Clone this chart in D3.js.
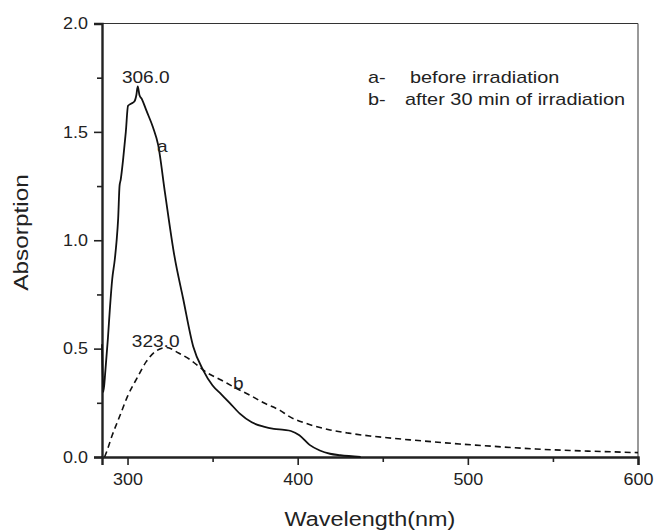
<!DOCTYPE html>
<html>
<head>
<meta charset="utf-8">
<script src="https://cdn.jsdelivr.net/npm/d3@7"></script>
<style>
  body { margin: 0; background: #fff; }
  text { font-family: "Liberation Sans", Arial, sans-serif; fill: #222; }
</style>
</head>
<body>
<div id="chart"></div>
<script>
// curve a - before irradiation
const waveA = [285.0, 285.8, 287, 288.5, 289.6, 291, 292.5, 293.5, 294.5, 295.3, 296, 297.5, 299, 300.3, 302, 304, 305.2, 306, 307, 308.5, 311, 315, 318, 322, 327.5, 332.7, 338.6, 344.5, 350, 355, 360, 366, 373, 380, 386, 392, 396, 401, 407, 413, 419, 425, 437];
const absA  = [0.52, 0.30, 0.40, 0.55, 0.68, 0.82, 0.91, 0.99, 1.10, 1.25, 1.28, 1.38, 1.50, 1.62, 1.63, 1.64, 1.67, 1.71, 1.67, 1.65, 1.60, 1.52, 1.44, 1.22, 0.93, 0.73, 0.51, 0.40, 0.33, 0.29, 0.25, 0.20, 0.16, 0.14, 0.13, 0.125, 0.12, 0.10, 0.056, 0.03, 0.015, 0.008, 0.0];

// curve b - after 30 min of irradiation
const waveB = [286.5, 288, 291, 295.5, 300, 306, 311, 317, 323, 330, 336.6, 346.5, 355, 362, 372, 380, 389.6, 395.5, 405, 419, 430, 442.5, 455, 466, 480, 495, 510, 525, 540, 560, 580, 600];
const absB  = [0.0, 0.03, 0.10, 0.19, 0.28, 0.37, 0.44, 0.49, 0.505, 0.48, 0.45, 0.39, 0.355, 0.325, 0.285, 0.25, 0.215, 0.185, 0.155, 0.125, 0.11, 0.097, 0.087, 0.079, 0.07, 0.06, 0.052, 0.044, 0.037, 0.03, 0.025, 0.02];

const xMajor = [300, 400, 500, 600];
const xMinor = [350, 450, 550];
const yMajor = [0, 0.5, 1.0, 1.5, 2.0];
const yMinor = [0.25, 0.75, 1.25, 1.75];

const legendLines = [["a-", "before irradiation"], ["b-", "after 30 min of irradiation"]];

const width = 654, height = 532;
const mLeft = 102, mRight = 638, mTop = 23.5, mBottom = 457;

const svg = d3.select("#chart").append("svg")
    .attr("width", width)
    .attr("height", height);

const x = d3.scaleLinear().domain([285, 600]).range([mLeft, mRight]);
const y = d3.scaleLinear().domain([0, 2]).range([mBottom, mTop]);

// stretch text a bit wider, the original font is wide
function stretch(sel, k) {
    sel.each(function() {
        const L = this.getComputedTextLength();
        d3.select(this).attr("textLength", L * k).attr("lengthAdjust", "spacingAndGlyphs");
    });
}

// frame top and right
svg.append("line").attr("x1", mLeft).attr("x2", mRight).attr("y1", mTop).attr("y2", mTop)
    .style("stroke", "#333").style("stroke-width", 1.2);
svg.append("line").attr("x1", mRight).attr("x2", mRight).attr("y1", mTop).attr("y2", mBottom)
    .style("stroke", "#555").style("stroke-width", 1.2);

// x axis
const xAxis = svg.append("g").attr("transform", `translate(0,${mBottom})`)
    .call(d3.axisBottom(x).tickValues(xMajor).tickSize(8).tickPadding(6).tickFormat(d3.format("d")));
svg.append("g").attr("transform", `translate(0,${mBottom})`)
    .call(d3.axisBottom(x).tickValues(xMinor).tickSize(5).tickFormat(""))
    .call(g => g.select(".domain").remove());

// y axis
const yAxis = svg.append("g").attr("transform", `translate(${mLeft},0)`)
    .call(d3.axisLeft(y).tickValues(yMajor).tickSize(8).tickPadding(6).tickFormat(d3.format(".1f")));
svg.append("g").attr("transform", `translate(${mLeft},0)`)
    .call(d3.axisLeft(y).tickValues(yMinor).tickSize(5).tickFormat(""))
    .call(g => g.select(".domain").remove());

svg.selectAll(".domain").style("stroke", "#222").style("stroke-width", 2.4);
svg.selectAll(".tick line").style("stroke", "#222").style("stroke-width", 1.6);
svg.selectAll(".tick text").style("font-size", "16px").style("font-family", "'Liberation Sans', Arial, sans-serif").attr("fill", "#222");
xAxis.selectAll(".tick text").attr("dy", "0.9em");
stretch(svg.selectAll(".tick text"), 1.12);

// curves
const lineA = d3.line().x((d, i) => x(waveA[i])).y(d => y(d)).curve(d3.curveMonotoneX);
const lineB = d3.line().x((d, i) => x(waveB[i])).y(d => y(d)).curve(d3.curveMonotoneX);

svg.append("path").datum(absA).attr("d", lineA)
    .style("fill", "none").style("stroke", "#111").style("stroke-width", 1.8);
svg.append("path").datum(absB).attr("d", lineB)
    .style("fill", "none").style("stroke", "#111").style("stroke-width", 1.6)
    .style("stroke-dasharray", "6,4");

// peak labels
const ann = svg.append("g").style("font-size", "17px");
ann.append("text").attr("x", x(306) + 8).attr("y", 83).attr("text-anchor", "middle").text("306.0");
ann.append("text").attr("x", x(323) - 11).attr("y", 346.5).attr("text-anchor", "middle").text("323.0");
ann.append("text").attr("x", 157).attr("y", 152).text("a");
ann.append("text").attr("x", 233).attr("y", 389).text("b");
stretch(ann.selectAll("text"), 1.12);

// legend
const leg = svg.append("g").style("font-size", "17px");
legendLines.forEach((l, i) => {
    leg.append("text").attr("x", 368).attr("y", 83 + i * 22).text(l[0]);
    leg.append("text").attr("x", i == 0 ? 410 : 405).attr("y", 83 + i * 22).text(l[1]);
});
stretch(leg.selectAll("text"), 1.17);

// axis titles
const xt = svg.append("text").attr("x", 370).attr("y", 526).attr("text-anchor", "middle")
    .style("font-size", "19.5px").text("Wavelength(nm)");
stretch(xt, 1.2);
const yt = svg.append("text").attr("transform", "translate(28,232.5) rotate(-90)").attr("text-anchor", "middle")
    .style("font-size", "19.5px").text("Absorption");
stretch(yt, 1.25);
</script>
</body>
</html>
